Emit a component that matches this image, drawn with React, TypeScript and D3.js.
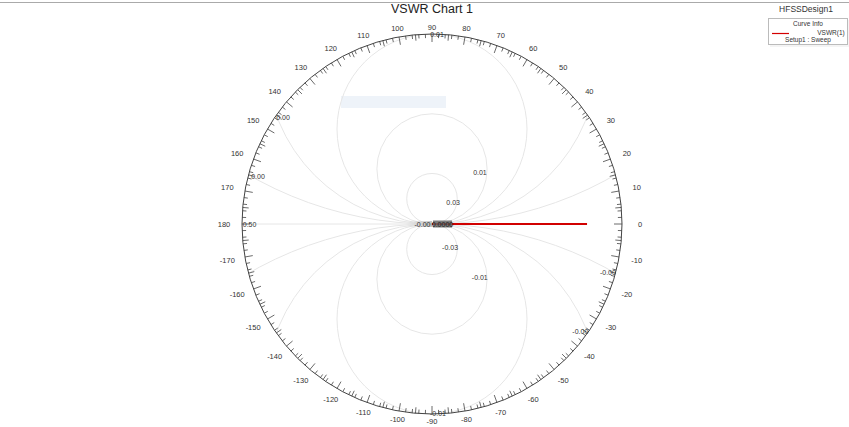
import React from "react";
import * as d3 from "d3";

// Angle axis labels (degrees)
const angleLabels: number[] = [0, 10, 20, 30, 40, 50, 60, 70, 80, 90, 100, 110, 120, 130, 140, 150, 160, 170, 180,
  -170, -160, -150, -140, -130, -120, -110, -100, -90, -80, -70, -60, -50, -40, -30, -20, -10];

// Reactance-style grid circles: radii (as fraction of the chart radius), tangent to the axis at the centre
const gridCircleRadii: number[] = [0.133, 0.29, 0.5, 0.872, 1.93];

// Grid value labels: text, angle (deg), radius fraction
const gridLabelText: string[] = ["0.01", "-0.01", "0.00", "0.00", "0.50", "-0.00", "-0.00", "0.01", "0.03", "-0.03", "-0.01", "-0.00"];
const gridLabelAngle: number[] = [88.5, -88.2, 144.3, 164.6, 180, -15.3, -36, 47, 46, -53, -48, 180];
const gridLabelRadius: number[] = [1.0, 1.0, 0.965, 0.95, 0.96, 0.96, 0.965, 0.37, 0.16, 0.158, 0.376, 0.05];

// VSWR(1) trace: angle (deg) and magnitude
const traceAngle: number[] = [0, 0];
const traceMag: number[] = [0, 0.816];

const W = 849;
const H = 427;
const cx = 432;
const cy = 224;
const R = 190;

export default function App() {
  const rScale = d3.scaleLinear().domain([0, 1]).range([0, R]);
  const toXY = (deg: number, frac: number): [number, number] => {
    const a = (deg * Math.PI) / 180;
    return [cx + rScale(frac) * Math.cos(a), cy - rScale(frac) * Math.sin(a)];
  };

  const ticks: { deg: number; len: number }[] = [];
  for (let d = 0; d < 360; d += 2) {
    const len = d % 10 === 0 ? 8 : 4;
    ticks.push({ deg: d, len });
  }
  for (let d = 5; d < 360; d += 10) ticks.push({ deg: d, len: 6 });

  const traceLine = d3
    .line<number>()
    .x((i) => toXY(traceAngle[i], traceMag[i])[0])
    .y((i) => toXY(traceAngle[i], traceMag[i])[1]);

  return (
    <svg width={W} height={H} style={{ position: "absolute", left: 0, top: 0, background: "#fff" }}
      fontFamily="Arial, 'Liberation Sans', sans-serif">
      <defs>
        <clipPath id="plotClip">
          <circle cx={cx} cy={cy} r={R} />
        </clipPath>
        <linearGradient id="smudge" x1="0" x2="1">
          <stop offset="0" stopColor="#ccc" stopOpacity="0" />
          <stop offset="1" stopColor="#999" stopOpacity="0.6" />
        </linearGradient>
      </defs>
      <rect x={0} y={0} width={W} height={H} fill="#fff" />
      <line x1={0} x2={W} y1={2.5} y2={2.5} stroke="#aaa" strokeWidth={1} />

      <text x={cx} y={13} textAnchor="middle" fontSize={12.5} fill="#222">VSWR Chart 1</text>
      <text x={806} y={12} textAnchor="middle" fontSize={8.5} fill="#333">HFSSDesign1</text>

      {/* legend */}
      <rect x={770} y={20} width={80} height={27} fill="#f4f4f4" />
      <rect x={768.5} y={18.5} width={79} height={26} fill="#fff" stroke="#bbb" strokeWidth={1} />
      <text x={808} y={26} textAnchor="middle" fontSize={6.5} fill="#333">Curve Info</text>
      <line x1={772} x2={789} y1={33.5} y2={33.5} stroke="#d40000" strokeWidth={1.2} />
      <text x={831} y={35} textAnchor="middle" fontSize={6.5} fill="#333">VSWR(1)</text>
      <text x={808} y={42} textAnchor="middle" fontSize={6.5} fill="#333">Setup1 : Sweep</text>

      {/* faint marker box */}
      <rect x={341} y={96} width={105} height={12} fill="#eef3f9" />

      {/* grid */}
      <g clipPath="url(#plotClip)" fill="none" stroke="#e6e6e6" strokeWidth={1}>
        <line x1={cx - R} x2={cx} y1={cy} y2={cy} />
        {gridCircleRadii.map((g, i) => (
          <g key={i}>
            <circle cx={cx} cy={cy - rScale(g)} r={rScale(g)} />
            <circle cx={cx} cy={cy + rScale(g)} r={rScale(g)} />
          </g>
        ))}
      </g>
      <rect x={404} y={221} width={28} height={6} fill="url(#smudge)" />

      {/* outer ring and ticks */}
      <circle cx={cx} cy={cy} r={R} fill="none" stroke="#444" strokeWidth={1} />
      {ticks.map((t, i) => {
        const [x1, y1] = toXY(t.deg, 1);
        const [x2, y2] = toXY(t.deg, 1 - t.len / R);
        return <line key={i} x1={x1} y1={y1} x2={x2} y2={y2} stroke="#444" strokeWidth={0.8} />;
      })}
      {angleLabels.map((a, i) => {
        const rad = (a * Math.PI) / 180;
        const rr = 197 + 11 * Math.abs(Math.cos(rad));
        return (
          <text key={i} x={cx + rr * Math.cos(rad)} y={cy - rr * Math.sin(rad)} textAnchor="middle"
            dominantBaseline="central" fontSize={7.5} fill="#333">{a}</text>
        );
      })}

      {/* trace */}
      <path d={traceLine(d3.range(traceAngle.length)) || ""} fill="none" stroke="#d10000" strokeWidth={1.8} />

      {/* grid value labels */}
      {gridLabelText.map((t, i) => {
        const [x, y] = toXY(gridLabelAngle[i], gridLabelRadius[i]);
        return (
          <text key={i} x={x} y={y} textAnchor="middle" dominantBaseline="central" fontSize={7} fill="#333">{t}</text>
        );
      })}
      <rect x={433} y={220.5} width={19} height={7} fill="#666" opacity={0.85} />
      <text x={442.5} y={224} textAnchor="middle" dominantBaseline="central" fontSize={7} fill="#222">0.0000</text>
    </svg>
  );
}
